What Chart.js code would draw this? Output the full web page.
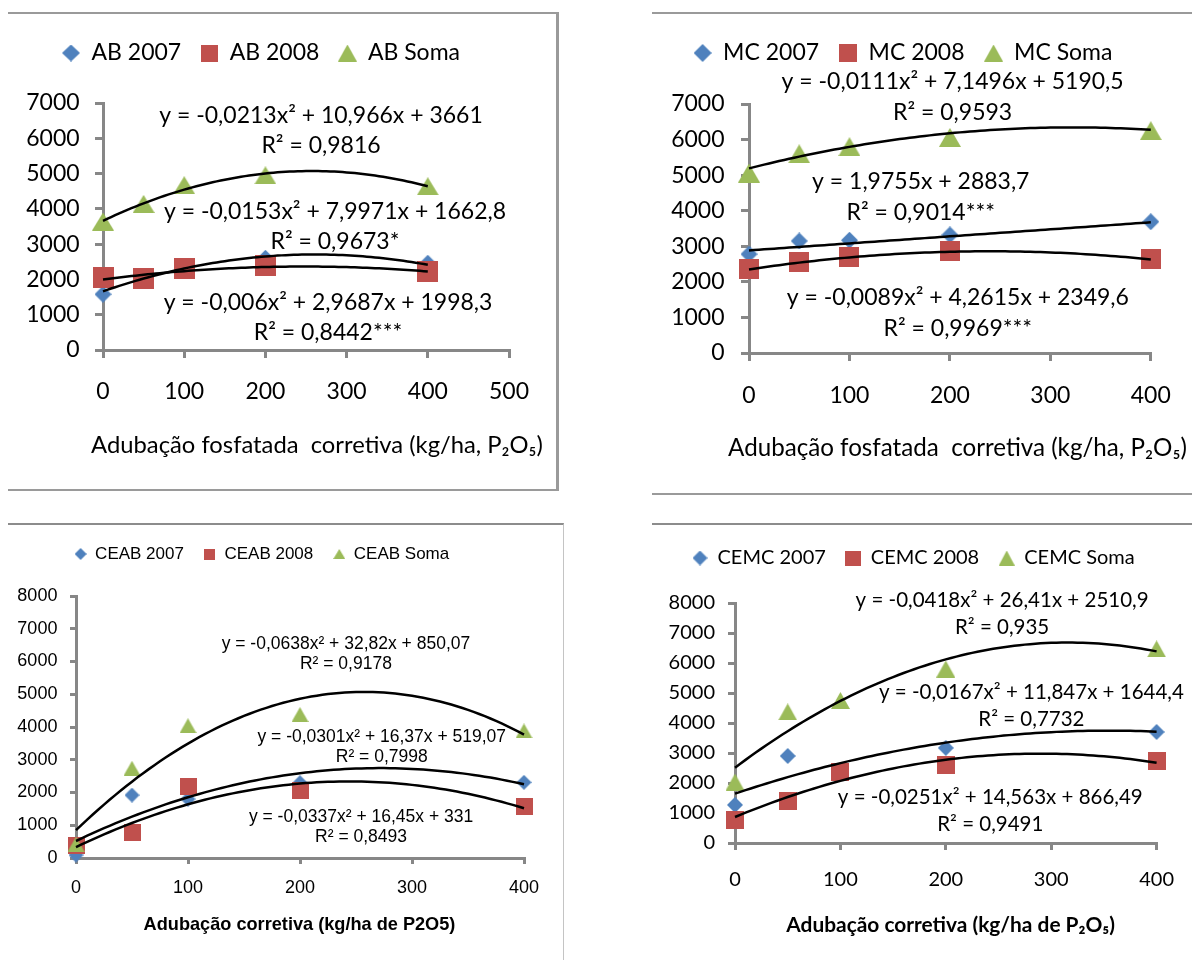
<!DOCTYPE html>
<html lang="pt-BR">
<head>
<meta charset="utf-8">
<title>Produtividade x adubação fosfatada corretiva</title>
<script src="https://cdn.jsdelivr.net/npm/chart.js@4.4.1/dist/chart.umd.min.js"></script>
<style>
  html, body { margin: 0; padding: 0; background: #fff; }
  body { position: relative; width: 1192px; height: 960px; overflow: hidden; }
  .rule { position: absolute; border: 0 solid #9a9a9a; box-sizing: border-box; }
  .panel { position: absolute; }
</style>
</head>
<body>
<!-- frame lines around the four panels -->
<div class="rule" style="left:8px;top:12px;width:551px;height:479px;border-top-width:2px;border-right-width:3px;border-bottom-width:2px;"></div>
<div class="rule" style="left:652px;top:12px;width:540px;height:483px;border-top-width:2px;border-bottom-width:2px;"></div>
<div class="rule" style="left:8px;top:523px;width:556px;height:437px;border-top:2px solid #8c8c8c;border-right:1px solid #c4c4c4;"></div>
<div class="rule" style="left:652px;top:523px;width:540px;height:10px;border-top:2px solid #8c8c8c;"></div>

<div class="panel" id="ab"><canvas></canvas></div>
<div class="panel" id="mc"><canvas></canvas></div>
<div class="panel" id="ceab"><canvas></canvas></div>
<div class="panel" id="cemc"><canvas></canvas></div>

<script>
// P2O5 doses (kg/ha)
const doses = [0, 50, 100, 200, 400];

// AB
const ab2007 = [1580, 2080, 2370, 2600, 2460];
const ab2008 = [2060, 2040, 2300, 2400, 2220];
const abSoma = [3640, 4140, 4670, 4950, 4640];
// MC
const mc2007 = [2780, 3150, 3170, 3320, 3690];
const mc2008 = [2360, 2560, 2700, 2870, 2640];
const mcSoma = [5060, 5600, 5800, 6060, 6250];
// CEAB
const ceab2007 = [90, 1920, 1800, 2300, 2310];
const ceab2008 = [370, 790, 2170, 2070, 1580];
const ceabSoma = [420, 2740, 4040, 4380, 3880];
// CEMC
const cemc2007 = [1270, 2900, 2400, 3170, 3700];
const cemc2008 = [770, 1410, 2370, 2600, 2730];
const cemcSoma = [2030, 4370, 4750, 5800, 6470];

// fitted polynomials [a, b, c] for y = a*x^2 + b*x + c, order: Soma, 2007, 2008
const abFits = [[-0.0213, 10.966, 3661], [-0.0153, 7.9971, 1662.8], [-0.006, 2.9687, 1998.3]];
const mcFits = [[-0.0111, 7.1496, 5190.5], [0, 1.9755, 2883.7], [-0.0089, 4.2615, 2349.6]];
const ceabFits = [[-0.0638, 32.82, 850.07], [-0.0301, 16.37, 519.07], [-0.0337, 16.45, 331]];
const cemcFits = [[-0.0418, 26.41, 2510.9], [-0.0167, 11.847, 1644.4], [-0.0251, 14.563, 866.49]];

// equation / R² labels, same order as the fits
const abEquations = [
  ['y = -0,0213x² + 10,966x + 3661', 'R² = 0,9816'],
  ['y = -0,0153x² + 7,9971x + 1662,8', 'R² = 0,9673*'],
  ['y = -0,006x² + 2,9687x + 1998,3', 'R² = 0,8442***']
];
const mcEquations = [
  ['y = -0,0111x² + 7,1496x + 5190,5', 'R² = 0,9593'],
  ['y = 1,9755x + 2883,7', 'R² = 0,9014***'],
  ['y = -0,0089x² + 4,2615x + 2349,6', 'R² = 0,9969***']
];
const ceabEquations = [
  ['y = -0,0638x² + 32,82x + 850,07', 'R² = 0,9178'],
  ['y = -0,0301x² + 16,37x + 519,07', 'R² = 0,7998'],
  ['y = -0,0337x² + 16,45x + 331', 'R² = 0,8493']
];
const cemcEquations = [
  ['y = -0,0418x² + 26,41x + 2510,9', 'R² = 0,935'],
  ['y = -0,0167x² + 11,847x + 1644,4', 'R² = 0,7732'],
  ['y = -0,0251x² + 14,563x + 866,49', 'R² = 0,9491']
];

const colors = ['#4F81BD', '#C0504D', '#9BBB59'];
const markerShapes = ['diamond', 'square', 'triangle'];
const axisGray = '#878787';

// sample a fitted polynomial over the dose range
function curve(c) {
  const pts = [];
  for (let x = 0; x <= 400; x += 5) pts.push({ x: x, y: c[0] * x * x + c[1] * x + c[2] });
  return pts;
}

// marker bitmap, centred on its bounding box
function icon(shape, w, h, color) {
  const c = document.createElement('canvas');
  c.width = w; c.height = h;
  const g = c.getContext('2d');
  g.fillStyle = color;
  g.beginPath();
  if (shape === 'diamond') {
    g.moveTo(w / 2, 0); g.lineTo(w, h / 2); g.lineTo(w / 2, h); g.lineTo(0, h / 2);
  } else if (shape === 'square') {
    g.rect(0, 0, w, h);
  } else {
    g.moveTo(w / 2, 0); g.lineTo(w, h); g.lineTo(0, h);
  }
  g.closePath();
  g.fill();
  return c;
}

function makePanel(id, s) {
  const b = s.box;
  const holder = document.getElementById(id);
  Object.assign(holder.style, {
    left: b.left + 'px', top: b.top + 'px',
    width: (b.right - b.left) + 'px', height: (b.bottom - b.top) + 'px'
  });

  const padTop = s.legendY - s.legendPad - s.legendSize / 2 - b.top;
  const legendLeft = s.legendX - b.left - s.legendPad;
  const yWidth = s.area.left - b.left;
  const xHeight = b.bottom - s.area.bottom;
  const legendHeight = s.area.top - b.top - padTop;
  const legendIcons = s.icons.map((d, i) => icon(markerShapes[i], d[0], d[1], colors[i]));
  const pointIcons = s.marks.map((d, i) => icon(markerShapes[i], d[0], d[1], colors[i]));

  const datasets = s.series.map((vals, i) => ({
    label: s.names[i],
    data: doses.map((d, k) => ({ x: d, y: vals[k] })),
    pointStyle: pointIcons[i],
    backgroundColor: colors[i],
    borderColor: colors[i],
    order: 3 - i,
    clip: false
  }));
  s.fits.forEach(c => datasets.push({
    label: '',
    data: curve(c),
    showLine: true,
    pointRadius: 0,
    pointHoverRadius: 0,
    borderColor: '#000',
    borderWidth: s.lineWidth,
    order: 0,
    clip: false
  }));

  // fixed legend height and start position
  const legendPlace = {
    id: 'legendPlace',
    beforeInit(chart) {
      const fit = chart.legend.fit;
      chart.legend.fit = function () { fit.call(this); this.height = legendHeight; };
    },
    afterLayout(chart) { chart.legend.left = legendLeft; }
  };

  // trend equations and the x axis caption
  const captions = {
    id: 'captions',
    afterDraw(chart) {
      const { ctx, scales } = chart;
      ctx.save();
      ctx.fillStyle = '#000';
      ctx.textAlign = 'center';
      ctx.textBaseline = 'middle';
      ctx.font = s.eqSize + 'px "' + s.family + '"';
      s.eqText.forEach((lines, i) => {
        const px = scales.x.getPixelForValue(s.eqAt[i][0]);
        const py = scales.y.getPixelForValue(s.eqAt[i][1]);
        lines.forEach((t, k) => ctx.fillText(t, px, py + k * s.eqGap));
      });
      // axis caption sized to its span
      const weight = s.titleWeight + ' ';
      ctx.font = weight + '100px "' + s.family + '"';
      const size = 100 * s.titleWidth / ctx.measureText(s.title).width;
      ctx.font = weight + size.toFixed(2) + 'px "' + s.family + '"';
      ctx.fillText(s.title, s.titleX - b.left, s.titleY - b.top);
      ctx.restore();
    }
  };

  new Chart(holder.querySelector('canvas'), {
    type: 'scatter',
    data: { datasets: datasets },
    plugins: [legendPlace, captions],
    options: {
      responsive: true,
      maintainAspectRatio: false,
      animation: false,
      layout: { padding: { left: 0, top: padTop, right: b.right - s.area.right, bottom: 0 } },
      plugins: {
        tooltip: { enabled: false },
        legend: {
          position: 'top',
          align: 'start',
          labels: {
            usePointStyle: true,
            pointStyleWidth: s.legendBox,
            padding: s.legendPad,
            color: '#000',
            font: { family: s.family, size: s.legendSize },
            generateLabels(chart) {
              return Chart.defaults.plugins.legend.labels.generateLabels(chart)
                .filter(item => item.datasetIndex < 3)
                .sort((p, q) => p.datasetIndex - q.datasetIndex)
                .map(item => Object.assign(item, { pointStyle: legendIcons[item.datasetIndex] }));
            }
          }
        }
      },
      scales: {
        x: {
          type: 'linear',
          min: 0,
          max: s.xMax,
          afterFit: scale => { scale.height = xHeight; },
          ticks: {
            stepSize: 100,
            color: '#000',
            font: { family: s.family, size: s.tickSize },
            padding: s.xTickY - s.area.bottom - s.tickLen - s.tickSize * 0.6,
            callback: v => String(v)
          },
          grid: { drawOnChartArea: false, tickLength: s.tickLen, color: axisGray, lineWidth: 3 },
          border: { color: axisGray, width: 3 }
        },
        y: {
          type: 'linear',
          min: 0,
          max: s.yMax,
          afterFit: scale => { scale.width = yWidth; },
          ticks: {
            stepSize: 1000,
            color: '#000',
            font: { family: s.family, size: s.tickSize },
            padding: s.area.left - s.tickLen - s.yTickRight,
            callback: v => String(v)
          },
          grid: { drawOnChartArea: false, tickLength: s.tickLen, color: axisGray, lineWidth: 3 },
          border: { color: axisGray, width: 3 }
        }
      }
    }
  });
}

makePanel('ab', {
  box: { left: 8, top: 15, right: 556, bottom: 487 },
  area: { left: 103, top: 103, right: 509, bottom: 350 },
  family: 'Lato', tickSize: 23, legendSize: 23, eqSize: 23, titleWeight: 'normal',
  legendX: 62, legendY: 53, legendPad: 19, legendBox: 18,
  icons: [[18, 17], [17, 17], [19, 17]],
  marks: [[17, 17], [21, 21], [22, 18]],
  xMax: 500, yMax: 7000, tickLen: 8, lineWidth: 2.5,
  xTickY: 392, yTickRight: 79.6,
  title: 'Adubação fosfatada  corretiva (kg/ha, P₂O₅)', titleX: 317, titleY: 445, titleWidth: 452,
  names: ['AB 2007', 'AB 2008', 'AB Soma'],
  series: [ab2007, ab2008, abSoma],
  fits: abFits,
  eqText: abEquations, eqGap: 30,
  eqAt: [[268.5, 6631], [285.7, 3911], [277.1, 1332]]
});

makePanel('mc', {
  box: { left: 652, top: 15, right: 1192, bottom: 490 },
  area: { left: 749, top: 104, right: 1155, bottom: 353 },
  family: 'Lato', tickSize: 23, legendSize: 23, eqSize: 23, titleWeight: 'normal',
  legendX: 693.6, legendY: 53, legendPad: 20, legendBox: 18,
  icons: [[18, 18], [18, 18], [19, 17]],
  marks: [[17, 17], [20, 20], [22, 19]],
  xMax: 400, yMax: 7000, tickLen: 8, lineWidth: 2.5,
  xTickY: 396, yTickRight: 724.5,
  title: 'Adubação fosfatada  corretiva (kg/ha, P₂O₅)', titleX: 957.5, titleY: 448, titleWidth: 459,
  names: ['MC 2007', 'MC 2008', 'MC Soma'],
  series: [mc2007, mc2008, mcSoma],
  fits: mcFits,
  eqText: mcEquations, eqGap: 31,
  eqAt: [[202.7, 7619], [171.0, 4807], [207.9, 1546]]
});

makePanel('ceab', {
  box: { left: 8, top: 520, right: 562, bottom: 958 },
  area: { left: 76, top: 596, right: 524, bottom: 858 },
  family: 'Liberation Sans', tickSize: 18, legendSize: 17, eqSize: 17.5, titleWeight: 'bold',
  legendX: 74.6, legendY: 554, legendPad: 20, legendBox: 12,
  icons: [[12, 12], [11, 11], [12, 10]],
  marks: [[15, 15], [17, 17], [17, 15]],
  xMax: 400, yMax: 8000, tickLen: 6, lineWidth: 2.5,
  xTickY: 888, yTickRight: 57.4,
  title: 'Adubação corretiva (kg/ha de P2O5)', titleX: 299.5, titleY: 925, titleWidth: 312,
  names: ['CEAB 2007', 'CEAB 2008', 'CEAB Soma'],
  series: [ceab2007, ceab2008, ceabSoma],
  fits: ceabFits,
  eqText: ceabEquations, eqGap: 20.5,
  eqAt: [[241, 6534], [273, 3695], [254.5, 1252]]
});

makePanel('cemc', {
  box: { left: 652, top: 520, right: 1192, bottom: 958 },
  area: { left: 735, top: 603, right: 1166, bottom: 843 },
  family: 'Lato', tickSize: 20, legendSize: 20, eqSize: 20.5, titleWeight: 'bold',
  legendX: 692.5, legendY: 558, legendPad: 20, legendBox: 15,
  icons: [[15, 15], [16, 15], [16, 15]],
  marks: [[16, 16], [18, 18], [19, 17]],
  xMax: 400, yMax: 8000, tickLen: 7, lineWidth: 2.5,
  xTickY: 880, yTickRight: 715,
  title: 'Adubação corretiva (kg/ha de P₂O₅)', titleX: 950.7, titleY: 925, titleWidth: 329,
  names: ['CEMC 2007', 'CEMC 2008', 'CEMC Soma'],
  series: [cemc2007, cemc2008, cemcSoma],
  fits: cemcFits,
  eqText: cemcEquations, eqGap: 27.5,
  eqAt: [[253.4, 8100], [281.2, 5033], [242.2, 1533]]
});
</script>
</body>
</html>
